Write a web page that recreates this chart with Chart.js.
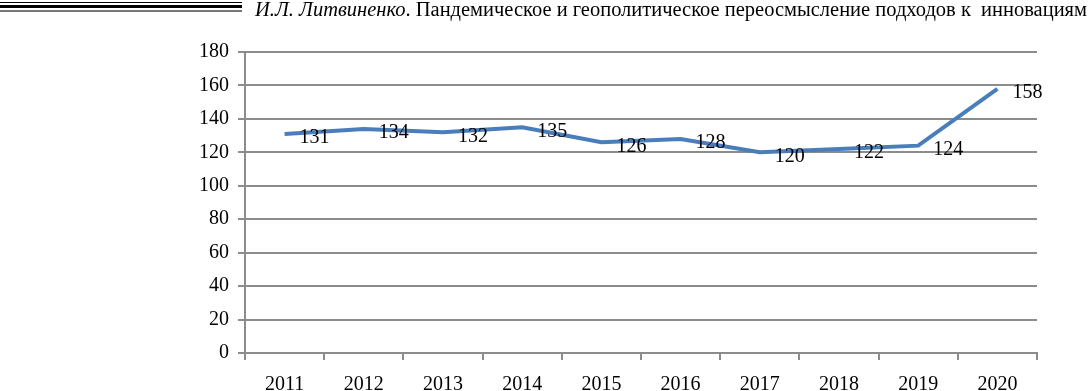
<!DOCTYPE html>
<html>
<head>
<meta charset="utf-8">
<script src="https://cdn.jsdelivr.net/npm/chart.js@4.4.0/dist/chart.umd.min.js"></script>
<style>
  body { margin: 0; background: #fff; }
  #wrap { position: relative; width: 1092px; height: 391px; overflow: hidden; }
  #head { position: absolute; left: 255px; top: -1px; font-family: "Liberation Serif", serif; font-size: 20px; line-height: 20px; color: #000; white-space: nowrap; transform-origin: left top; z-index: 2; }
  .rule { position: absolute; left: 0; width: 242px; }
  canvas { position: absolute; left: 0; top: 0; }
</style>
</head>
<body>
<div id="wrap">
  <div class="rule" style="top:2px;height:1px;background:#000"></div>
  <div class="rule" style="top:5px;height:3px;background:#000"></div>
  <div class="rule" style="top:10px;height:2px;background:#777"></div>
  <div id="head"><i>И.Л. Литвиненко</i>. Пандемическое и геополитическое переосмысление подходов к&nbsp; инновациям</div>
  <canvas id="myChart" width="1092" height="391"></canvas>
</div>
<script>
// данные графика
const years = ['2011', '2012', '2013', '2014', '2015', '2016', '2017', '2018', '2019', '2020'];
const values = [131, 134, 132, 135, 126, 128, 120, 122, 124, 158];
const yTicks = [0, 20, 40, 60, 80, 100, 120, 140, 160, 180];

// подгонка ширины колонтитула
const head = document.getElementById('head');
const w = head.getBoundingClientRect().width;
head.style.transform = 'scaleX(' + (832 / w) + ')';

// подписи значений справа от точек
const valueLabels = {
    id: 'valueLabels',
    afterDatasetsDraw(chart) {
        const ctx = chart.ctx;
        const meta = chart.getDatasetMeta(0);
        ctx.save();
        ctx.font = '20px "Liberation Serif"';
        ctx.fillStyle = '#000';
        ctx.textAlign = 'left';
        ctx.textBaseline = 'middle';
        meta.data.forEach((pt, i) => {
            ctx.fillText(values[i], pt.x + 15, pt.y + 4);
        });
        ctx.restore();
    }
};

const ctx = document.getElementById('myChart');
new Chart(ctx, {
    type: 'line',
    data: {
        labels: years,
        datasets: [{
            data: values,
            borderColor: '#4a7ebb',
            borderWidth: 4,
            pointRadius: 0,
            tension: 0,
            fill: false
        }]
    },
    options: {
        responsive: false,
        animation: false,
        layout: { padding: { top: 52, right: 55, bottom: 0, left: 0 } },
        plugins: { legend: { display: false }, tooltip: { enabled: false } },
        scales: {
            x: {
                offset: true,
                grid: { offset: true, drawOnChartArea: false, drawTicks: true, tickLength: 7, color: '#8c8c8c', lineWidth: 2 },
                border: { color: '#8c8c8c', width: 2 },
                ticks: { color: '#000', font: { family: 'Liberation Serif', size: 20 }, padding: 13, maxRotation: 0 },
                afterFit: function(scale) { scale.height = 38; }
            },
            y: {
                min: 0,
                max: 180,
                afterBuildTicks: function(scale) { scale.ticks = yTicks.map(v => ({ value: v })); },
                grid: { color: '#8c8c8c', lineWidth: 2, tickLength: 7 },
                border: { color: '#8c8c8c', width: 2 },
                ticks: { color: '#000', font: { family: 'Liberation Serif', size: 20 }, padding: 9 },
                afterFit: function(scale) { scale.width = 245; }
            }
        }
    },
    plugins: [valueLabels]
});
</script>
</body>
</html>
